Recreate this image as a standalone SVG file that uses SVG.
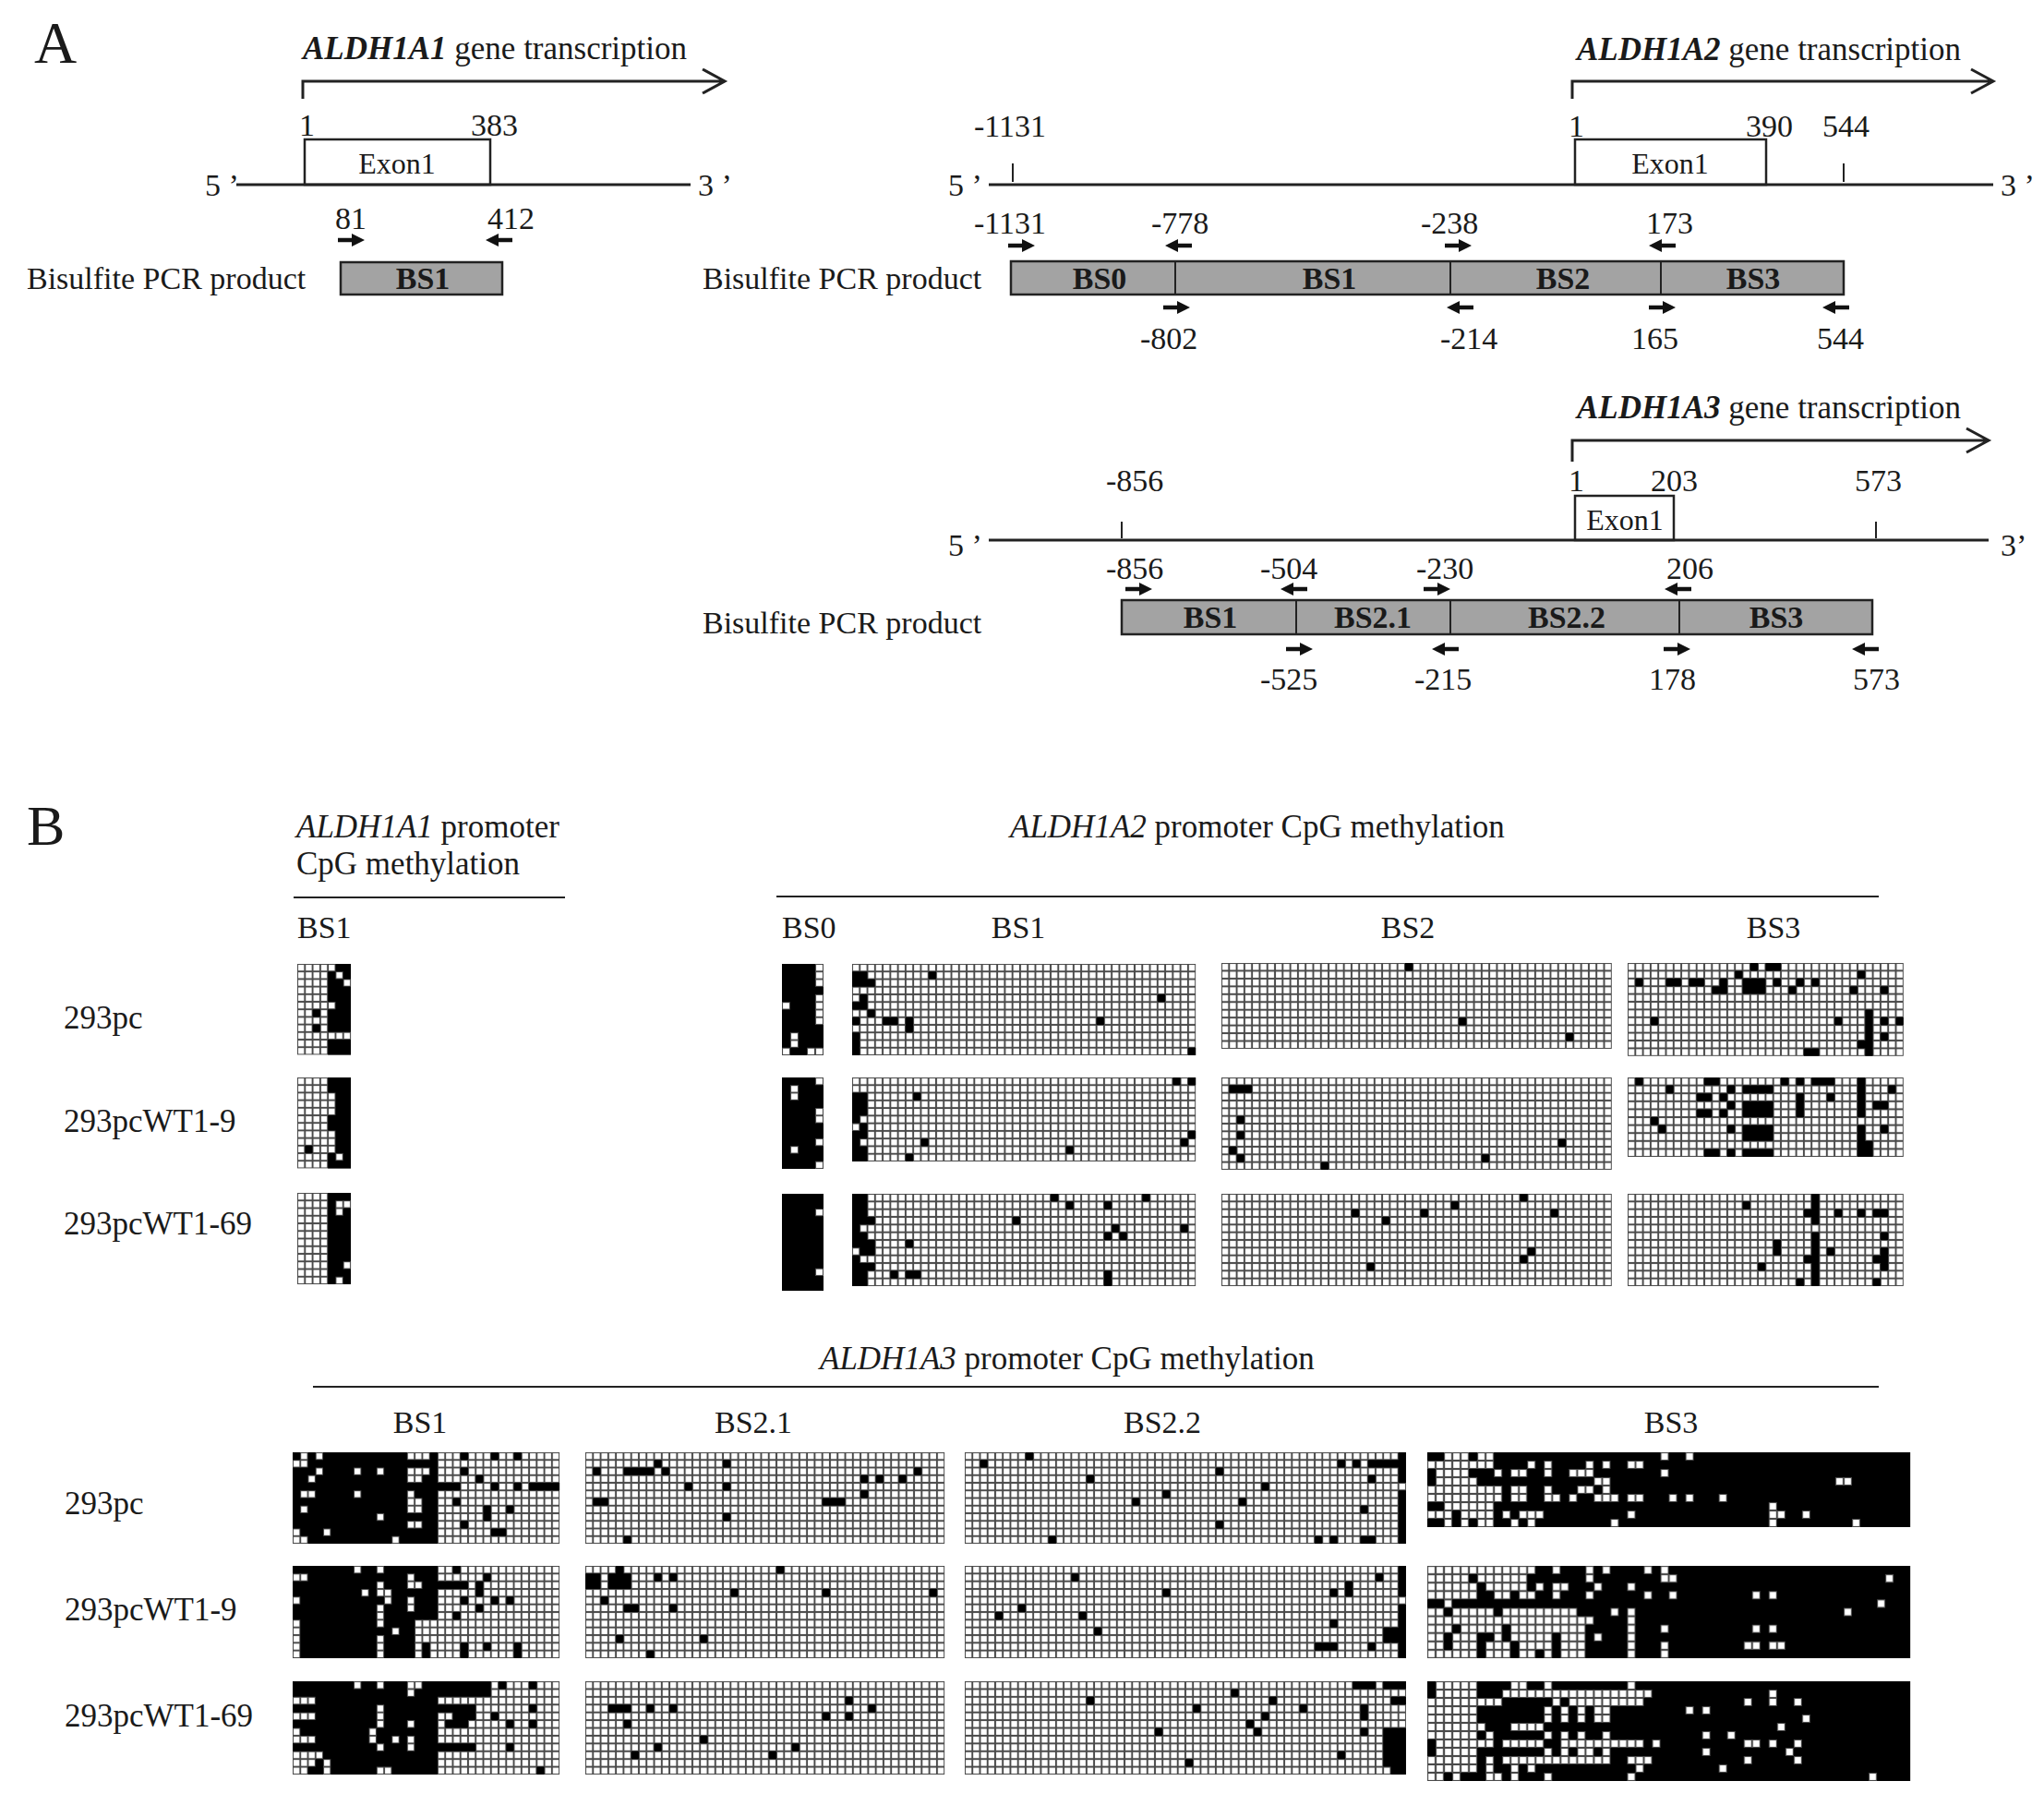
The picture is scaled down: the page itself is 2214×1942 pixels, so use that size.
<svg xmlns="http://www.w3.org/2000/svg" xmlns:xlink="http://www.w3.org/1999/xlink" width="2214" height="1942" viewBox="0 0 2214 1942">
<style>
text{font-family:"Liberation Serif","Times New Roman",serif;fill:#1a1a1a}
.s34{font-size:34px}.s35{font-size:35px}.s32{font-size:32px}
.bi{font-weight:bold;font-style:italic}.b{font-weight:bold}.it{font-style:italic}
.mid{text-anchor:middle}
.ln{stroke:#222;stroke-width:3;fill:none}
.thin{stroke:#222;stroke-width:2;fill:none}
.box{fill:#fff;stroke:#222;stroke-width:2.5}
.bar{fill:#a3a3a3;stroke:#222;stroke-width:2.5}
.m{fill:#000}
.w{fill:url(#g)}
</style>
<defs>
<pattern id="g" width="1" height="1" patternUnits="userSpaceOnUse"><rect width="1" height="1" fill="#4a4a4a"/><rect x="0.12" y="0.12" width="0.76" height="0.76" fill="#fff"/></pattern>
<path id="pa" d="M0 -2.3H15V-7L29 0L15 7V2.3H0Z" fill="#111"/>
</defs>
<rect width="2214" height="1942" fill="#fff"/>

<!-- Panel A -->
<text x="37" y="68" style="font-size:64px">A</text>

<g id="aldh1a1-map">
<text x="328" y="64" class="s35"><tspan class="bi">ALDH1A1</tspan> gene transcription</text>
<text x="324" y="147" class="s34">1</text>
<text x="510" y="147" class="s34">383</text>
<rect x="330" y="151" width="201" height="49" class="box"/>
<text x="430" y="188" class="s32 mid">Exon1</text>
<line x1="256" y1="200" x2="748" y2="200" class="ln"/>
<text x="222" y="212" class="s34">5 ’</text>
<text x="756" y="212" class="s34">3 ’</text>
<text x="363" y="248" class="s34">81</text>
<text x="528" y="248" class="s34">412</text>
<text x="29" y="313" class="s34">Bisulfite PCR product</text>
<rect x="369" y="284" width="175" height="35" class="bar"/>
<text x="458" y="313" class="s34 b mid">BS1</text>
</g>

<g id="aldh1a2-map">
<text x="1708" y="65" class="s35"><tspan class="bi">ALDH1A2</tspan> gene transcription</text>
<text x="1055" y="148" class="s34">-1131</text>
<text x="1699" y="148" class="s34">1</text>
<text x="1891" y="148" class="s34">390</text>
<text x="1974" y="148" class="s34">544</text>
<rect x="1706" y="151" width="207" height="49" class="box"/>
<text x="1809" y="188" class="s32 mid">Exon1</text>
<line x1="1071" y1="200" x2="2159" y2="200" class="ln"/>
<line x1="1097" y1="177" x2="1097" y2="197" class="thin"/>
<line x1="1997" y1="177" x2="1997" y2="197" class="thin"/>
<text x="1027" y="212" class="s34">5 ’</text>
<text x="2167" y="212" class="s34">3 ’</text>
<text x="1055" y="253" class="s34">-1131</text>
<text x="1247" y="253" class="s34">-778</text>
<text x="1539" y="253" class="s34">-238</text>
<text x="1783" y="253" class="s34">173</text>
<text x="761" y="313" class="s34">Bisulfite PCR product</text>
<rect x="1095" y="283" width="902" height="36" class="bar"/>
<line x1="1273" y1="283" x2="1273" y2="319" class="thin"/>
<line x1="1571" y1="283" x2="1571" y2="319" class="thin"/>
<line x1="1799" y1="283" x2="1799" y2="319" class="thin"/>
<text x="1191" y="313" class="s34 b mid">BS0</text>
<text x="1440" y="313" class="s34 b mid">BS1</text>
<text x="1693" y="313" class="s34 b mid">BS2</text>
<text x="1899" y="313" class="s34 b mid">BS3</text>
<text x="1235" y="378" class="s34">-802</text>
<text x="1560" y="378" class="s34">-214</text>
<text x="1767" y="378" class="s34">165</text>
<text x="1968" y="378" class="s34">544</text>
</g>

<g id="aldh1a3-map">
<text x="1708" y="453" class="s35"><tspan class="bi">ALDH1A3</tspan> gene transcription</text>
<text x="1198" y="532" class="s34">-856</text>
<text x="1699" y="532" class="s34">1</text>
<text x="1788" y="532" class="s34">203</text>
<text x="2009" y="532" class="s34">573</text>
<rect x="1706" y="537" width="107" height="48" class="box"/>
<text x="1760" y="574" class="s32 mid">Exon1</text>
<line x1="1071" y1="585" x2="2154" y2="585" class="ln"/>
<line x1="1215" y1="565" x2="1215" y2="583" class="thin"/>
<line x1="2032" y1="565" x2="2032" y2="583" class="thin"/>
<text x="1027" y="602" class="s34">5 ’</text>
<text x="2167" y="602" class="s34">3’</text>
<text x="1198" y="627" class="s34">-856</text>
<text x="1365" y="627" class="s34">-504</text>
<text x="1534" y="627" class="s34">-230</text>
<text x="1805" y="627" class="s34">206</text>
<text x="761" y="686" class="s34">Bisulfite PCR product</text>
<rect x="1215" y="650" width="813" height="37" class="bar"/>
<line x1="1404" y1="650" x2="1404" y2="687" class="thin"/>
<line x1="1571" y1="650" x2="1571" y2="687" class="thin"/>
<line x1="1819" y1="650" x2="1819" y2="687" class="thin"/>
<text x="1311" y="680" class="s34 b mid">BS1</text>
<text x="1487" y="680" class="s34 b mid">BS2.1</text>
<text x="1697" y="680" class="s34 b mid">BS2.2</text>
<text x="1924" y="680" class="s34 b mid">BS3</text>
<text x="1365" y="747" class="s34">-525</text>
<text x="1532" y="747" class="s34">-215</text>
<text x="1786" y="747" class="s34">178</text>
<text x="2007" y="747" class="s34">573</text>
</g>

<g id="arrows">
<path d="M328 107V88H785M761 75L785 88L761 101" class="ln" stroke-width="2.5"/>
<path d="M1703 107V88H2159M2135 75L2159 88L2135 101" class="ln" stroke-width="2.5"/>
<path d="M1703 500V477H2154M2130 464L2154 477L2130 490" class="ln" stroke-width="2.5"/>
<use xlink:href="#pa" x="366" y="260"/>
<use xlink:href="#pa" transform="translate(555,260) scale(-1,1)"/>
<use xlink:href="#pa" x="1092" y="266"/>
<use xlink:href="#pa" transform="translate(1291,266) scale(-1,1)"/>
<use xlink:href="#pa" x="1565" y="266"/>
<use xlink:href="#pa" transform="translate(1815,266) scale(-1,1)"/>
<use xlink:href="#pa" x="1260" y="333"/>
<use xlink:href="#pa" transform="translate(1596,333) scale(-1,1)"/>
<use xlink:href="#pa" x="1786" y="333"/>
<use xlink:href="#pa" transform="translate(2003,333) scale(-1,1)"/>
<use xlink:href="#pa" x="1219" y="638"/>
<use xlink:href="#pa" transform="translate(1416,638) scale(-1,1)"/>
<use xlink:href="#pa" x="1542" y="638"/>
<use xlink:href="#pa" transform="translate(1832,638) scale(-1,1)"/>
<use xlink:href="#pa" x="1393" y="703"/>
<use xlink:href="#pa" transform="translate(1580,703) scale(-1,1)"/>
<use xlink:href="#pa" x="1802" y="703"/>
<use xlink:href="#pa" transform="translate(2035,703) scale(-1,1)"/>
</g>

<!-- Panel B -->
<text x="29" y="915" style="font-size:62px">B</text>
<g id="headers-b">
<text x="321" y="907" class="s35"><tspan class="it">ALDH1A1</tspan> promoter</text>
<text x="321" y="947" class="s35">CpG methylation</text>
<line x1="318" y1="972" x2="612" y2="972" class="thin"/>
<text x="1094" y="907" class="s35"><tspan class="it">ALDH1A2</tspan> promoter CpG methylation</text>
<line x1="841" y1="971" x2="2035" y2="971" class="thin"/>
<text x="322" y="1016" class="s34">BS1</text>
<text x="847" y="1016" class="s34">BS0</text>
<text x="1103" y="1016" class="s34 mid">BS1</text>
<text x="1525" y="1016" class="s34 mid">BS2</text>
<text x="1921" y="1016" class="s34 mid">BS3</text>
<text x="69" y="1114" class="s35">293pc</text>
<text x="69" y="1226" class="s35">293pcWT1-9</text>
<text x="69" y="1337" class="s35">293pcWT1-69</text>
<text x="888" y="1483" class="s35"><tspan class="it">ALDH1A3</tspan> promoter CpG methylation</text>
<line x1="339" y1="1502" x2="2035" y2="1502" class="thin"/>
<text x="455" y="1552" class="s34 mid">BS1</text>
<text x="816" y="1552" class="s34 mid">BS2.1</text>
<text x="1259" y="1552" class="s34 mid">BS2.2</text>
<text x="1810" y="1552" class="s34 mid">BS3</text>
<text x="70" y="1640" class="s35">293pc</text>
<text x="70" y="1755" class="s35">293pcWT1-9</text>
<text x="70" y="1870" class="s35">293pcWT1-69</text>
</g>

<!-- ALDH1A1 BS1 -->
<g id="a1-bs1-pc" transform="translate(322,1044) scale(8.29,8.2)">
<rect width="7" height="12" class="w"/>
<path class="m" d="M4 0h3v12h-3z M2 6h1v1h-1z M2 8h1v1h-1z"/>
<path class="w" d="M4 0h1v1h-1z M5 1h1v1h-1z M6 2h1v1h-1z M4 5h1v1h-1z M4 9h3v1h-3z"/>
</g>
<g id="a1-bs1-9" transform="translate(322,1167) scale(8.29,8.2)">
<rect width="7" height="12" class="w"/>
<path class="m" d="M5 0h2v12h-2z M4 0h1v2h-1z M4 5h1v2h-1z M4 10h1v2h-1z M1 9h1v1h-1z"/>
<path class="w" d="M5 10h1v1h-1z"/>
</g>
<g id="a1-bs1-69" transform="translate(322,1292) scale(8.29,8.25)">
<rect width="7" height="12" class="w"/>
<path class="m" d="M4 0h3v12h-3z"/>
<path class="w" d="M5 1h2v1h-2z M5 2h1v1h-1z M6 9h1v1h-1z M5 11h1v1h-1z"/>
</g>

<!-- ALDH1A2 BS0 -->
<g id="a2-bs0-pc" transform="translate(847,1044) scale(9,8.25)">
<rect width="5" height="12" class="m"/>
<path class="w" d="M4 0h1v3h-1z M4 4h1v4h-1z M0 5h1v1h-1z M1 9h1v2h-1z M0 11h1v1h-1z M3 11h2v1h-2z"/>
</g>
<g id="a2-bs0-9" transform="translate(847,1167) scale(9,8.25)">
<rect width="5" height="12" class="m"/>
<path class="w" d="M1 1h1v2h-1z M4 0h1v1h-1z M4 4h1v2h-1z M4 8h1v1h-1z M4 11h1v1h-1z M1 9h1v1h-1z"/>
</g>
<g id="a2-bs0-69" transform="translate(847,1293) scale(9,8.08)">
<rect width="5" height="13" class="m"/>
<path class="w" d="M4 2h1v1h-1z M4 10h1v1h-1z"/>
</g>

<!-- ALDH1A2 BS1 -->
<g id="a2-bs1-pc" transform="translate(923,1044) scale(8.27,8.25)">
<rect width="45" height="12" class="w"/>
<path class="m" d="M0 1h2v2h-2z M2 2h1v1h-1z M10 1h1v1h-1z M1 4h1v1h-1z M0 5h2v1h-2z M2 6h1v1h-1z M0 7h1v1h-1z M4 7h2v1h-2z M7 7h1v2h-1z M32 7h1v1h-1z M40 4h1v1h-1z M0 9h1v3h-1z M44 11h1v1h-1z"/>
</g>
<g id="a2-bs1-9" transform="translate(923,1167) scale(8.27,8.27)">
<rect width="45" height="11" class="w"/>
<path class="m" d="M0 2h2v9h-2z M8 2h1v1h-1z M9 8h1v1h-1z M7 10h1v1h-1z M28 9h1v1h-1z M42 0h1v1h-1z M44 0h1v1h-1z M44 7h1v1h-1z M43 8h1v1h-1z"/>
<path class="w" d="M1 5h1v1h-1z M0 6h1v1h-1z M1 8h1v1h-1z"/>
</g>
<g id="a2-bs1-69" transform="translate(923,1293) scale(8.27,8.33)">
<rect width="45" height="12" class="w"/>
<path class="m" d="M0 0h2v12h-2z M2 3h1v1h-1z M2 6h1v2h-1z M2 9h1v1h-1z M7 6h1v1h-1z M5 10h1v1h-1z M7 10h2v1h-2z M21 3h1v1h-1z M26 0h1v1h-1z M28 1h1v1h-1z M33 1h1v1h-1z M38 0h1v1h-1z M34 4h1v1h-1z M33 5h1v1h-1z M35 5h1v1h-1z M43 4h1v1h-1z M33 10h1v2h-1z"/>
<path class="w" d="M1 4h1v1h-1z M0 7h1v1h-1z M1 8h1v1h-1z"/>
</g>

<!-- ALDH1A2 BS2 -->
<g id="a2-bs2-pc" transform="translate(1323,1043) scale(8.29,8.45)">
<rect width="51" height="11" class="w"/>
<path class="m" d="M24 0h1v1h-1z M31 7h1v1h-1z M45 9h1v1h-1z"/>
</g>
<g id="a2-bs2-9" transform="translate(1323,1167) scale(8.29,8.33)">
<rect width="51" height="12" class="w"/>
<path class="m" d="M1 1h3v1h-3z M2 5h1v1h-1z M2 7h1v1h-1z M1 9h1v1h-1z M2 10h1v1h-1z M13 11h1v1h-1z M34 10h1v1h-1z M44 8h1v1h-1z"/>
</g>
<g id="a2-bs2-69" transform="translate(1323,1293) scale(8.29,8.33)">
<rect width="51" height="12" class="w"/>
<path class="m" d="M17 2h1v1h-1z M21 3h1v1h-1z M26 2h1v1h-1z M30 1h1v1h-1z M39 0h1v1h-1z M43 2h1v1h-1z M40 7h1v1h-1z M39 8h1v1h-1z M19 9h1v1h-1z"/>
</g>

<!-- ALDH1A2 BS3 -->
<g id="a2-bs3-pc" transform="translate(1763,1043) scale(8.3,8.4)">
<rect width="36" height="12" class="w"/>
<path class="m" d="M1 2h1v1h-1z M5 2h2v1h-2z M8 2h2v1h-2z M12 2h1v1h-1z M14 1h1v1h-1z M16 0h1v1h-1z M18 0h2v1h-2z M15 2h3v2h-3z M19 2h1v1h-1z M22 2h1v1h-1z M24 2h1v1h-1z M30 1h1v1h-1z M11 3h2v1h-2z M21 3h1v1h-1z M29 3h1v1h-1z M33 3h1v1h-1z M3 7h1v1h-1z M27 7h1v1h-1z M31 6h1v3h-1z M33 7h1v1h-1z M35 7h1v1h-1z M33 9h1v1h-1z M31 9h1v3h-1z M30 10h1v1h-1z M23 11h2v1h-2z"/>
</g>
<g id="a2-bs3-9" transform="translate(1763,1167) scale(8.3,8.6)">
<rect width="36" height="10" class="w"/>
<path class="m" d="M1 0h1v1h-1z M5 1h1v1h-1z M10 0h2v1h-2z M9 2h2v1h-2z M12 2h1v1h-1z M13 1h1v1h-1z M15 1h4v1h-4z M20 0h1v1h-1z M22 0h1v1h-1z M24 0h3v1h-3z M22 2h1v1h-1z M26 2h1v1h-1z M15 3h4v2h-4z M13 3h1v1h-1z M9 4h2v1h-2z M12 4h1v1h-1z M22 3h1v2h-1z M30 0h1v5h-1z M30 6h1v4h-1z M32 3h2v1h-2z M33 6h1v1h-1z M34 1h1v1h-1z M3 5h1v1h-1z M4 6h1v1h-1z M13 6h1v1h-1z M15 6h4v2h-4z M10 9h2v1h-2z M13 9h1v1h-1z M15 9h4v1h-4z M31 8h1v2h-1z"/>
</g>
<g id="a2-bs3-69" transform="translate(1763,1293) scale(8.3,8.33)">
<rect width="36" height="12" class="w"/>
<path class="m" d="M15 1h1v1h-1z M24 0h1v4h-1z M24 5h1v7h-1z M23 2h1v1h-1z M27 2h1v1h-1z M30 2h1v1h-1z M32 2h2v1h-2z M19 6h1v2h-1z M26 7h1v1h-1z M33 5h1v1h-1z M33 7h1v3h-1z M32 8h1v1h-1z M23 8h1v1h-1z M17 9h1v1h-1z M22 11h1v1h-1z M32 11h1v1h-1z"/>
</g>

<!-- ALDH1A3 BS1 -->
<g id="a3-bs1-pc" transform="translate(317,1573) scale(8.26,8.25)">
<rect width="35" height="12" class="w"/>
<path class="m" d="M0 0h19v12h-19z M22 0h1v1h-1z M26 0h1v1h-1z M29 0h1v1h-1z M22 2h1v1h-1z M24 3h1v1h-1z M19 4h3v1h-3z M26 4h1v1h-1z M29 4h1v1h-1z M31 4h4v1h-4z M21 6h1v1h-1z M25 7h1v2h-1z M28 7h1v1h-1z M22 9h1v1h-1z M26 10h2v1h-2z"/>
<path class="w" d="M1 0h1v1h-1z M3 0h1v1h-1z M15 0h3v1h-3z M0 1h2v1h-2z M3 2h1v1h-1z M8 2h1v1h-1z M11 2h1v1h-1z M15 2h3v1h-3z M2 3h1v1h-1z M15 3h2v1h-2z M1 5h2v1h-2z M8 5h1v1h-1z M15 5h1v1h-1z M15 6h2v1h-2z M1 7h1v1h-1z M15 7h2v1h-2z M11 8h1v1h-1z M15 9h2v1h-2z M0 10h1v1h-1z M4 10h1v1h-1z M0 11h2v1h-2z M13 11h1v1h-1z"/>
</g>
<g id="a3-bs1-9" transform="translate(317,1696) scale(8.26,8.33)">
<rect width="35" height="12" class="w"/>
<path class="m" d="M0 0h19v7h-19z M0 7h16v5h-16z M21 0h1v1h-1z M25 1h1v1h-1z M19 2h4v1h-4z M24 2h1v2h-1z M22 4h1v1h-1z M26 4h1v1h-1z M28 4h1v1h-1z M24 5h1v1h-1z M21 6h1v1h-1z M17 10h1v2h-1z M22 10h1v2h-1z M25 10h1v1h-1z M29 10h1v2h-1z"/>
<path class="w" d="M8 0h1v1h-1z M11 0h1v1h-1z M0 1h2v1h-2z M15 1h1v1h-1z M11 2h1v1h-1z M15 2h2v1h-2z M9 3h1v1h-1z M11 3h2v1h-2z M0 4h1v1h-1z M12 4h1v1h-1z M15 4h1v1h-1z M11 5h1v1h-1z M15 5h1v1h-1z M11 6h1v1h-1z M0 7h1v5h-1z M11 7h1v1h-1z M13 8h1v1h-1z M11 9h1v3h-1z"/>
</g>
<g id="a3-bs1-69" transform="translate(317,1821) scale(8.26,8.42)">
<rect width="35" height="12" class="w"/>
<path class="m" d="M0 0h19v12h-19z M19 0h7v2h-7z M27 0h1v1h-1z M31 0h1v1h-1z M19 3h1v1h-1z M20 3h4v3h-4z M31 3h1v1h-1z M26 4h1v1h-1z M28 5h1v1h-1z M31 5h1v1h-1z M19 8h5v1h-5z M28 8h1v1h-1z M32 11h1v1h-1z"/>
<path class="w" d="M8 0h1v1h-1z M11 0h1v1h-1z M15 0h2v1h-2z M15 1h1v1h-1z M0 2h3v1h-3z M11 3h1v1h-1z M0 4h3v1h-3z M11 4h1v1h-1z M20 4h1v1h-1z M11 5h1v1h-1z M15 5h1v1h-1z M23 5h1v1h-1z M0 6h1v1h-1z M10 6h1v1h-1z M0 7h3v1h-3z M10 7h1v1h-1z M13 7h1v1h-1z M15 7h1v1h-1z M11 8h1v1h-1z M15 8h1v1h-1z M0 9h4v1h-4z M0 10h3v1h-3z M4 10h1v1h-1z M0 11h2v1h-2z M4 11h1v1h-1z M11 11h2v1h-2z"/>
</g>

<!-- ALDH1A3 BS2.1 -->
<g id="a3-bs21-pc" transform="translate(634,1573) scale(8.28,8.25)">
<rect width="47" height="12" class="w"/>
<path class="m" d="M1 2h1v1h-1z M5 2h4v1h-4z M9 1h1v1h-1z M10 2h1v1h-1z M18 1h1v1h-1z M13 4h1v1h-1z M18 4h1v1h-1z M1 6h2v1h-2z M18 8h1v1h-1z M5 11h1v1h-1z M31 6h3v1h-3z M36 3h1v1h-1z M38 3h1v1h-1z M41 3h1v1h-1z M43 2h1v1h-1z M36 5h1v1h-1z"/>
</g>
<g id="a3-bs21-9" transform="translate(634,1696) scale(8.28,8.33)">
<rect width="47" height="12" class="w"/>
<path class="m" d="M0 1h2v2h-2z M3 1h3v2h-3z M4 0h1v1h-1z M9 1h1v1h-1z M11 1h1v1h-1z M25 0h1v1h-1z M19 3h1v1h-1z M31 3h1v1h-1z M45 3h1v1h-1z M2 4h1v1h-1z M5 5h2v1h-2z M11 5h1v1h-1z M4 9h1v1h-1z M15 9h1v1h-1z M8 11h1v1h-1z"/>
</g>
<g id="a3-bs21-69" transform="translate(634,1821) scale(8.28,8.42)">
<rect width="47" height="12" class="w"/>
<path class="m" d="M3 3h3v1h-3z M8 3h1v1h-1z M11 3h1v1h-1z M5 5h1v1h-1z M15 7h1v1h-1z M9 8h1v1h-1z M6 9h1v1h-1z M24 9h1v1h-1z M27 8h1v1h-1z M31 4h1v1h-1z M34 2h1v1h-1z M34 4h1v1h-1z M37 3h1v1h-1z"/>
</g>

<!-- ALDH1A3 BS2.2 -->
<g id="a3-bs22-pc" transform="translate(1045,1573) scale(8.24,8.25)">
<rect width="58" height="12" class="w"/>
<path class="m" d="M2 1h1v1h-1z M8 0h1v1h-1z M16 3h1v1h-1z M26 5h1v1h-1z M22 6h1v1h-1z M33 2h1v1h-1z M39 4h1v1h-1z M36 6h1v1h-1z M33 9h1v1h-1z M11 11h1v1h-1z M49 1h1v1h-1z M51 1h1v1h-1z M53 1h4v1h-4z M57 0h1v4h-1z M57 5h1v7h-1z M53 3h1v1h-1z M52 7h1v1h-1z M46 11h1v1h-1z M48 11h1v1h-1z M52 11h2v1h-2z"/>
</g>
<g id="a3-bs22-9" transform="translate(1045,1696) scale(8.24,8.33)">
<rect width="58" height="12" class="w"/>
<path class="m" d="M14 1h1v1h-1z M26 3h1v1h-1z M7 5h1v1h-1z M4 6h1v1h-1z M15 6h1v1h-1z M17 8h1v1h-1z M48 3h1v1h-1z M50 2h1v2h-1z M54 1h1v1h-1z M57 0h1v4h-1z M57 5h1v7h-1z M48 7h1v1h-1z M55 8h2v2h-2z M46 10h3v1h-3z M53 10h1v1h-1z"/>
</g>
<g id="a3-bs22-69" transform="translate(1045,1821) scale(8.24,8.42)">
<rect width="58" height="12" class="w"/>
<path class="m" d="M51 0h3v1h-3z M55 0h3v1h-3z M35 1h1v1h-1z M16 2h1v1h-1z M40 2h1v1h-1z M30 3h1v1h-1z M44 3h1v1h-1z M52 3h1v2h-1z M56 2h2v1h-2z M39 4h1v1h-1z M37 5h1v1h-1z M38 6h1v1h-1z M25 6h1v1h-1z M52 6h1v1h-1z M55 6h3v5h-3z M49 9h1v1h-1z M29 10h1v1h-1z M56 11h2v1h-2z"/>
</g>

<!-- ALDH1A3 BS3 -->
<g id="a3-bs3-pc" transform="translate(1546,1573) scale(9.02,9)">
<rect width="58" height="9" class="m"/>
<path class="w" d="M2 0h3v1h-3z M6 0h2v1h-2z M28 0h1v1h-1z M31 0h1v1h-1z M0 1h8v1h-8z M12 1h1v1h-1z M14 1h1v1h-1z M19 1h1v1h-1z M21 1h1v1h-1z M24 1h2v1h-2z M1 2h4v1h-4z M8 2h1v1h-1z M10 2h2v1h-2z M14 2h1v1h-1z M17 2h3v1h-3z M28 2h1v1h-1z M1 3h5v1h-5z M20 3h2v1h-2z M49 3h2v1h-2z M0 4h9v1h-9z M10 4h2v1h-2z M14 4h1v1h-1z M18 4h2v1h-2z M21 4h1v1h-1z M0 5h9v1h-9z M10 5h2v1h-2z M14 5h2v1h-2z M17 5h1v1h-1z M20 5h3v1h-3z M24 5h2v1h-2z M29 5h1v1h-1z M31 5h1v1h-1z M35 5h1v1h-1z M2 6h6v1h-6z M41 6h1v1h-1z M0 7h3v1h-3z M4 7h4v1h-4z M9 7h1v1h-1z M11 7h3v1h-3z M24 7h1v1h-1z M41 7h2v1h-2z M45 7h1v1h-1z M2 8h1v1h-1z M4 8h1v1h-1z M6 8h2v1h-2z M10 8h1v1h-1z M12 8h1v1h-1z M22 8h1v1h-1z M41 8h1v1h-1z M51 8h1v1h-1z"/>
</g>
<g id="a3-bs3-9" transform="translate(1546,1696) scale(9.02,9.09)">
<rect width="58" height="11" class="m"/>
<path class="w" d="M0 0h13v1h-13z M15 0h1v1h-1z M19 0h1v1h-1z M21 0h1v1h-1z M26 0h1v1h-1z M28 0h1v1h-1z M0 1h5v1h-5z M6 1h6v1h-6z M19 1h1v1h-1z M28 1h2v1h-2z M55 1h1v1h-1z M0 2h6v1h-6z M7 2h5v1h-5z M13 2h1v1h-1z M15 2h2v1h-2z M20 2h1v1h-1z M24 2h1v1h-1z M0 3h6v1h-6z M8 3h2v1h-2z M11 3h2v1h-2z M15 3h1v1h-1z M19 3h1v1h-1z M26 3h1v1h-1z M29 3h1v1h-1z M39 3h1v1h-1z M41 3h1v1h-1z M2 4h1v1h-1z M54 4h1v1h-1z M0 5h2v1h-2z M3 5h5v1h-5z M9 5h9v1h-9z M22 5h1v1h-1z M24 5h1v1h-1z M50 5h1v1h-1z M0 6h20v1h-20z M24 6h1v1h-1z M0 7h3v1h-3z M4 7h5v1h-5z M10 7h9v1h-9z M24 7h1v1h-1z M28 7h1v1h-1z M39 7h1v1h-1z M41 7h1v1h-1z M0 8h2v1h-2z M3 8h3v1h-3z M8 8h1v1h-1z M10 8h5v1h-5z M16 8h3v1h-3z M20 8h1v1h-1z M24 8h1v1h-1z M0 9h2v1h-2z M3 9h3v1h-3z M7 9h3v1h-3z M11 9h4v1h-4z M16 9h3v1h-3z M24 9h1v1h-1z M28 9h1v1h-1z M38 9h2v1h-2z M41 9h2v1h-2z M0 10h6v1h-6z M7 10h3v1h-3z M11 10h2v1h-2z M14 10h1v1h-1z M16 10h3v1h-3z M24 10h1v1h-1z M28 10h1v1h-1z"/>
</g>
<g id="a3-bs3-69" transform="translate(1546,1821) scale(9.02,9)">
<rect width="58" height="12" class="m"/>
<path class="w" d="M1 0h5v1h-5z M10 0h2v1h-2z M14 0h1v1h-1z M24 0h1v1h-1z M1 1h5v1h-5z M9 1h18v1h-18z M41 1h1v1h-1z M0 2h9v1h-9z M15 2h1v1h-1z M17 2h9v1h-9z M38 2h1v1h-1z M41 2h1v1h-1z M44 2h1v1h-1z M0 3h6v1h-6z M14 3h1v1h-1z M16 3h1v1h-1z M18 3h1v1h-1z M20 3h2v1h-2z M31 3h1v1h-1z M33 3h1v1h-1z M0 4h6v1h-6z M14 4h1v1h-1z M16 4h1v1h-1z M18 4h1v1h-1z M20 4h2v1h-2z M45 4h1v1h-1z M0 5h7v1h-7z M10 5h4v1h-4z M42 5h1v1h-1z M0 6h6v1h-6z M7 6h1v1h-1z M14 6h1v1h-1z M16 6h1v1h-1z M18 6h1v1h-1z M21 6h1v1h-1z M33 6h1v1h-1z M36 6h1v1h-1z M1 7h7v1h-7z M9 7h5v1h-5z M16 7h10v1h-10z M27 7h1v1h-1z M38 7h2v1h-2z M41 7h1v1h-1z M44 7h1v1h-1z M1 8h5v1h-5z M14 8h1v1h-1z M16 8h1v1h-1z M18 8h2v1h-2z M21 8h1v1h-1z M33 8h1v1h-1z M43 8h1v1h-1z M0 9h6v1h-6z M7 9h1v1h-1z M9 9h13v1h-13z M24 9h3v1h-3z M38 9h1v1h-1z M44 9h1v1h-1z M0 10h6v1h-6z M7 10h1v1h-1z M10 10h1v1h-1z M12 10h1v1h-1z M25 10h1v1h-1z M35 10h1v1h-1z M0 11h2v1h-2z M3 11h1v1h-1z M7 11h2v1h-2z M10 11h1v1h-1z M14 11h1v1h-1z M24 11h1v1h-1z M53 11h1v1h-1z"/>
</g>
</svg>
